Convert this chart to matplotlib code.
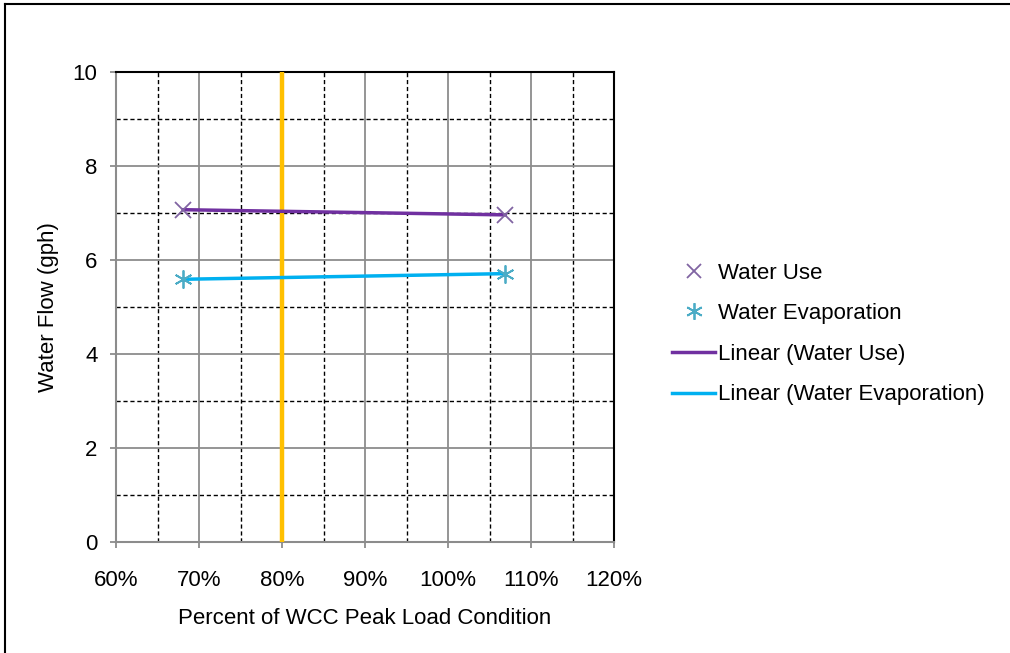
import numpy as np
import matplotlib.pyplot as plt
from matplotlib.ticker import MultipleLocator, FuncFormatter
from matplotlib.lines import Line2D

plt.rcParams['font.family'] = ['Liberation Sans', 'DejaVu Sans']

load_pct = [68.1, 106.9]
water_use = [7.07, 6.96]
water_evap = [5.59, 5.71]
design_pct = 80

col_use = '#7030A0'
col_use_mk = '#8064A2'
col_evap = '#00B0F0'
col_evap_mk = '#4BACC6'

fig = plt.figure(figsize=(10.1, 6.53), dpi=100)
ax = fig.add_axes([116/1010, 1-542/653, 498/1010, 470/653])

# Gitter
ax.set_xlim(60, 120)
ax.set_ylim(0, 10)
ax.xaxis.set_major_locator(MultipleLocator(10))
ax.xaxis.set_minor_locator(MultipleLocator(5))
ax.yaxis.set_major_locator(MultipleLocator(2))
ax.yaxis.set_minor_locator(MultipleLocator(1))
ax.grid(which='major', color='#8c8c8c', linewidth=1.3, linestyle='-')
ax.grid(which='minor', color='black', linewidth=1.0, linestyle=(0, (3, 2)))
ax.set_axisbelow(True)
ax.xaxis.set_major_formatter(FuncFormatter(lambda v, p: '%d%%' % v))

ax.tick_params(which='major', length=4.3, color='#8c8c8c', width=1.3,
               labelsize=16)
ax.tick_params(axis='x', pad=16)
ax.tick_params(axis='y', pad=9)
ax.tick_params(which='minor', length=0)
for s in ['left', 'bottom']:
    ax.spines[s].set_color('#8c8c8c')
    ax.spines[s].set_linewidth(1.5)
for s in ['top', 'right']:
    ax.spines[s].set_color('black')
    ax.spines[s].set_linewidth(1.5)

ax.axvline(design_pct, color='#FFC000', linewidth=3.2, zorder=3)

# lineare Trendlinien
for y, c in [(water_use, col_use), (water_evap, col_evap)]:
    p = np.polyfit(load_pct, y, 1)
    xs = np.array([min(load_pct), max(load_pct)])
    ax.plot(xs, np.polyval(p, xs), color=c, linewidth=2.5, zorder=4)

ax.plot(load_pct, water_use, 'x', color=col_use_mk, markersize=11,
        markeredgewidth=1.3, zorder=5)
ax.plot(load_pct, water_evap, linestyle='none', marker=(6, 2, 0),
        color=col_evap_mk, markersize=13, markeredgewidth=1.3, zorder=5)

ax.set_xlabel('Percent of WCC Peak Load Condition', fontsize=16, labelpad=12)
ax.set_ylabel('Water Flow (gph)', fontsize=16, labelpad=10)

handles = [
    Line2D([], [], linestyle='none', marker='x', color=col_use_mk,
           markersize=10, markeredgewidth=1.3),
    Line2D([], [], linestyle='none', marker=(6, 2, 0), color=col_evap_mk,
           markersize=12, markeredgewidth=1.3),
    Line2D([], [], color=col_use, linewidth=2.5),
    Line2D([], [], color=col_evap, linewidth=2.5),
]
labels = ['Water Use', 'Water Evaporation', 'Linear (Water Use)',
          'Linear (Water Evaporation)']
fig.legend(handles, labels, loc='center left', bbox_to_anchor=(672/1010, 1-334/653),
           frameon=False, fontsize=16, handlelength=1.95, handletextpad=0.1,
           labelspacing=0.88, borderpad=0, borderaxespad=0)

# Rahmen um die Grafik (nur oben und links sichtbar)
fig.add_artist(Line2D([5/1010, 1], [1-4/653, 1-4/653], color='black',
                      linewidth=1.5, transform=fig.transFigure))
fig.add_artist(Line2D([5/1010, 5/1010], [0, 1-4/653], color='black',
                      linewidth=1.5, transform=fig.transFigure))

plt.savefig('out.png', dpi=100)
